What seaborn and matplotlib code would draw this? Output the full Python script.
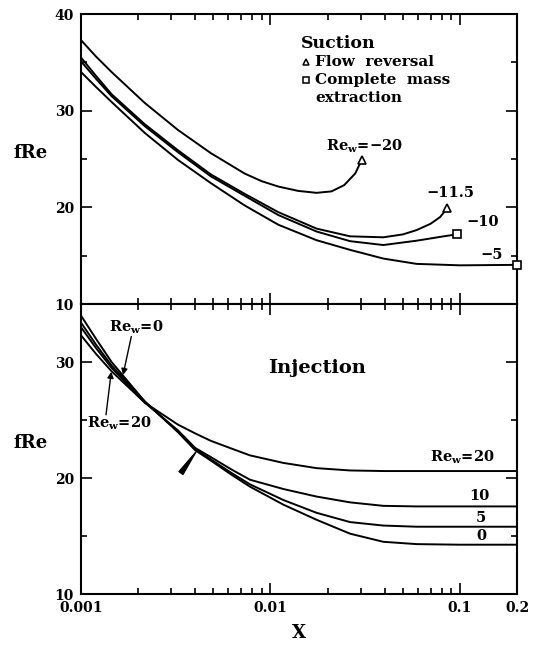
import matplotlib
matplotlib.use("Agg")
import matplotlib.pyplot as plt
import seaborn as sns
from matplotlib.ticker import LogLocator, MultipleLocator, NullFormatter, FixedLocator

# ---------------- data ----------------
# Suction (top panel)
x_m20 = [0.001, 0.0012, 0.00145, 0.00217, 0.00325, 0.00485, 0.0073, 0.009, 0.011, 0.014, 0.0175, 0.021, 0.0245, 0.028, 0.0303]
f_m20 = [37.3, 35.6, 34.0, 30.8, 28.0, 25.6, 23.5, 22.7, 22.15, 21.7, 21.5, 21.65, 22.3, 23.5, 24.9]

x_m115 = [0.001, 0.0012, 0.00145, 0.00217, 0.00325, 0.00485, 0.0073, 0.011, 0.0175, 0.0263, 0.0394, 0.05, 0.0591, 0.07, 0.0786, 0.0857]
f_m115 = [35.5, 33.6, 31.7, 28.6, 25.9, 23.4, 21.4, 19.5, 17.8, 17.0, 16.9, 17.2, 17.65, 18.3, 19.0, 19.9]

x_m10 = [0.001, 0.0012, 0.00145, 0.00217, 0.00325, 0.00485, 0.0073, 0.011, 0.0175, 0.0263, 0.0394, 0.0591, 0.082, 0.0961]
f_m10 = [35.1, 33.3, 31.5, 28.4, 25.7, 23.2, 21.2, 19.2, 17.5, 16.5, 16.1, 16.55, 17.0, 17.2]

x_m5 = [0.001, 0.0012, 0.00145, 0.00217, 0.00325, 0.00485, 0.0073, 0.011, 0.0175, 0.0263, 0.0394, 0.0591, 0.1, 0.2]
f_m5 = [34.0, 32.45, 30.9, 27.7, 24.9, 22.5, 20.2, 18.2, 16.6, 15.6, 14.7, 14.15, 14.0, 14.05]

# Injection (bottom panel)
x_inj = [0.001, 0.0012, 0.00145, 0.00217, 0.00325, 0.004, 0.00485, 0.0062, 0.0078, 0.0117, 0.0175, 0.0263, 0.0394, 0.0591, 0.1, 0.2]
f_p0 = [34.0, 32.0, 30.0, 26.6, 23.95, 22.4, 21.5, 20.3, 19.25, 17.7, 16.4, 15.2, 14.5, 14.3, 14.25, 14.25]
f_p5 = [33.4, 31.5, 29.7, 26.6, 24.0, 22.5, 21.6, 20.45, 19.45, 18.1, 17.0, 16.2, 15.9, 15.8, 15.8, 15.8]
f_p10 = [33.0, 31.2, 29.5, 26.5, 24.1, 22.6, 21.8, 20.75, 19.85, 19.05, 18.4, 17.9, 17.6, 17.55, 17.55, 17.55]
f_p20 = [32.3, 30.7, 29.2, 26.5, 24.6, 23.85, 23.2, 22.55, 21.95, 21.3, 20.85, 20.65, 20.6, 20.6, 20.6, 20.6]

xtick_vals = [0.001, 0.01, 0.1, 0.2]
xtick_labels = ["0.001", "0.01", "0.1", "0.2"]
ytop_ticks = [10, 20, 30, 40]
ybot_ticks = [10, 20, 30]

# ---------------- style ----------------
sns.set_style("ticks")
plt.rcParams["font.family"] = ["DejaVu Serif"]
plt.rcParams["font.weight"] = "bold"
plt.rcParams["mathtext.fontset"] = "dejavuserif"
plt.rcParams["axes.linewidth"] = 1.5
for k in ["text.color", "axes.labelcolor", "xtick.color", "ytick.color", "axes.edgecolor"]:
    plt.rcParams[k] = "black"

fig = plt.figure(figsize=(5.35, 6.47), dpi=100)
ax_top = fig.add_axes([81/535, 1-304/647, 436/535, 290/647])
ax_bot = fig.add_axes([81/535, 1-594/647, 436/535, 290/647])

LW = 1.4
top_series = [(x_m20, f_m20), (x_m115, f_m115), (x_m10, f_m10), (x_m5, f_m5)]
for xs, fs in top_series:
    sns.lineplot(x=xs, y=fs, ax=ax_top, color="black", lw=LW, sort=False)

bot_series = [f_p0, f_p5, f_p10, f_p20]
for fs in bot_series:
    sns.lineplot(x=x_inj, y=fs, ax=ax_bot, color="black", lw=LW, sort=False)

# end markers (suction)
mk = dict(color="black", mfc="white", mec="black", mew=1.2, ms=6, ls="none", clip_on=False, zorder=5)
ax_top.plot([x_m20[-1]], [f_m20[-1]], marker="^", **mk)
ax_top.plot([x_m115[-1]], [f_m115[-1]], marker="^", **mk)
ax_top.plot([x_m10[-1]], [f_m10[-1]], marker="s", **mk)
ax_top.plot([x_m5[-1]], [f_m5[-1]], marker="s", **mk)

for ax in (ax_top, ax_bot):
    ax.set_xscale("log")
    ax.set_xlim(0.001, 0.2)
    ax.xaxis.set_major_locator(FixedLocator(xtick_vals))
    ax.xaxis.set_minor_locator(LogLocator(base=10, subs=[2, 3, 4, 5, 6, 7, 8, 9], numticks=20))
    ax.xaxis.set_minor_formatter(NullFormatter())
    ax.yaxis.set_minor_locator(MultipleLocator(5))
    ax.tick_params(which="both", direction="in", top=True, right=True, width=1.2,
                   labelsize=10, pad=5, colors="black")
    ax.tick_params(which="major", length=8)
    ax.tick_params(which="minor", length=4.5)
    ax.set_ylabel("fRe", rotation=0, fontsize=13, fontweight="bold", ha="center", va="center")
    ax.yaxis.set_label_coords(-0.115, 0.52)

ax_top.set_ylim(10, 40)
ax_top.set_yticks(ytop_ticks)
ax_top.set_xticklabels([])
ax_top.set_xlabel("")

ax_bot.set_ylim(10, 35)
ax_bot.set_yticks(ybot_ticks)
ax_bot.set_xticklabels(xtick_labels, fontweight="bold")
ax_bot.set_xlabel("X", fontsize=13, fontweight="bold", va="center")
ax_bot.xaxis.set_label_coords(0.5, -0.135)

# ---------------- annotations: top ----------------
ax_top.text(0.505, 0.90, "Suction", transform=ax_top.transAxes, fontsize=12.5,
            fontweight="bold", ha="left", va="center")
ax_top.plot([0.516], [0.834], marker="^", transform=ax_top.transAxes,
            color="black", mfc="white", mec="black", mew=1.1, ms=5, ls="none")
ax_top.text(0.537, 0.834, "Flow  reversal", transform=ax_top.transAxes, fontsize=11,
            fontweight="bold", ha="left", va="center")
ax_top.plot([0.516], [0.772], marker="s", transform=ax_top.transAxes,
            color="black", mfc="white", mec="black", mew=1.1, ms=5, ls="none")
ax_top.text(0.537, 0.772, "Complete  mass", transform=ax_top.transAxes, fontsize=11,
            fontweight="bold", ha="left", va="center")
ax_top.text(0.537, 0.710, "extraction", transform=ax_top.transAxes, fontsize=11,
            fontweight="bold", ha="left", va="center")

ax_top.text(0.0315, 26.3, r"Re$_\mathbf{w}$=−20", fontsize=10.5, fontweight="bold", ha="center", va="center")
ax_top.text(0.0885, 21.5, "−11.5", fontsize=10.5, fontweight="bold", ha="center", va="center")
ax_top.text(0.132, 18.5, "−10", fontsize=10.5, fontweight="bold", ha="center", va="center")
ax_top.text(0.147, 15.1, "−5", fontsize=10.5, fontweight="bold", ha="center", va="center")

# ---------------- annotations: bottom ----------------
ax_bot.text(0.429, 0.779, "Injection", transform=ax_bot.transAxes, fontsize=14,
            fontweight="bold", ha="left", va="center")

ax_bot.text(0.1025, 21.75, r"Re$_\mathbf{w}$=20", fontsize=10.5, fontweight="bold", ha="center", va="center")
ax_bot.text(0.126, 18.45, "10", fontsize=10.5, fontweight="bold", ha="center", va="center")
ax_bot.text(0.129, 16.55, "5", fontsize=10.5, fontweight="bold", ha="center", va="center")
ax_bot.text(0.129, 15.0, "0", fontsize=10.5, fontweight="bold", ha="center", va="center")

arrow = dict(arrowstyle="-|>", color="black", lw=1.0, mutation_scale=9, shrinkA=0, shrinkB=0)
ax_bot.text(0.00195, 33.0, r"Re$_\mathbf{w}$=0", fontsize=10.5, fontweight="bold", ha="center", va="center")
ax_bot.annotate("", xy=(0.001666, 28.88), xytext=(0.001843, 32.2), arrowprops=arrow)
ax_bot.text(0.00159, 24.74, r"Re$_\mathbf{w}$=20", fontsize=10.5, fontweight="bold", ha="center", va="center")
ax_bot.annotate("", xy=(0.001445, 29.16), xytext=(0.001355, 25.45), arrowprops=arrow)
ax_bot.annotate("", xy=(0.00404, 22.24), xytext=(0.00337, 20.43),
                arrowprops=dict(arrowstyle="wedge,tail_width=0.35", color="black", lw=1.0,
                                shrinkA=0, shrinkB=0))

fig.savefig("out.png", dpi=100)
